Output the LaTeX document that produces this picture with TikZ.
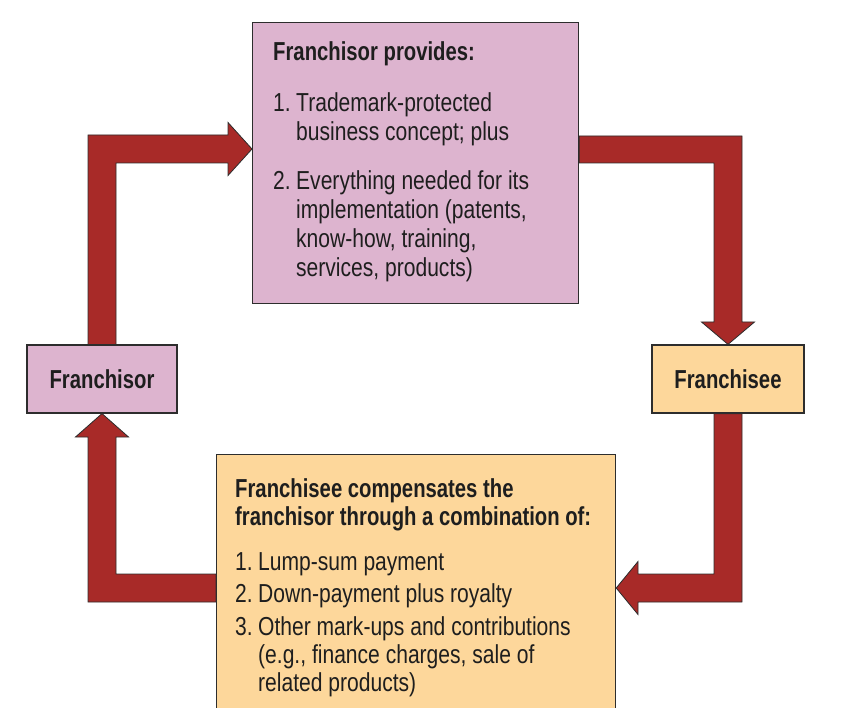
\documentclass[tikz,border=0pt]{standalone}
\usepackage{fontspec}
\setmainfont{Liberation Sans}[FakeStretch=0.81]
\newfontfamily\boldcond{Liberation Sans}[FakeStretch=0.78]
\usetikzlibrary{backgrounds,calc}
\definecolor{arrowred}{RGB}{168,42,40}
\definecolor{pinkfill}{RGB}{221,180,207}
\definecolor{orangefill}{RGB}{253,215,155}
\definecolor{txtcol}{RGB}{30,30,30}
\definecolor{edgecol}{RGB}{45,45,45}
\begin{document}
\begin{tikzpicture}[x=1pt,y=-1pt,
  box/.style={draw=edgecol, line width=1.2pt, inner sep=0pt},
  bigarrow/.style={fill=arrowred, draw=edgecol, line width=0.8pt, line join=miter},
  sidelabel/.style={font=\fontsize{26}{29}\selectfont\boldcond\bfseries, text=txtcol},
  listtext/.style={anchor=base west, inner sep=0pt, text=txtcol}
]
\useasboundingbox (0,0) rectangle (848,708);
\clip (0,0) rectangle (848,708);

% boxes
\node[box, fill=pinkfill, minimum width=326pt, minimum height=281pt, anchor=north west] (prov) at (252,22) {};
\node[box, fill=orangefill, minimum width=399pt, minimum height=270pt, anchor=north west] (comp) at (216,454) {};
\node[box, fill=pinkfill, minimum width=150pt, minimum height=68pt, sidelabel] (fr) at (102,379) {Franchisor};
\node[box, fill=orangefill, minimum width=152pt, minimum height=68pt, sidelabel] (fe) at (728,379) {Franchisee};

% texts
\node[listtext, font=\fontsize{26}{29}\selectfont] (provtxt) at (273,61) {%
\begin{tabular}[t]{@{}l@{}l@{}}
\multicolumn{2}{@{}l@{}}{\boldcond\bfseries Franchisor provides:}\\[22pt]
\makebox[23pt][l]{1.} & Trademark-protected\\
 & business concept; plus\\[20pt]
\makebox[23pt][l]{2.} & Everything needed for its\\
 & implementation (patents,\\
 & know-how, training,\\
 & services, products)
\end{tabular}};

\node[listtext, font=\fontsize{26}{28}\selectfont] (comptxt) at (235,497) {%
\begin{tabular}[t]{@{}l@{}l@{}}
\multicolumn{2}{@{}l@{}}{\boldcond\bfseries Franchisee compensates the}\\
\multicolumn{2}{@{}l@{}}{\boldcond\bfseries franchisor through a combination of:}\\[17pt]
\makebox[23pt][l]{1.} & Lump-sum payment\\[4pt]
\makebox[23pt][l]{2.} & Down-payment plus royalty\\[5pt]
\makebox[23pt][l]{3.} & Other mark-ups and contributions\\
 & (e.g., finance charges, sale of\\
 & related products)
\end{tabular}};

% arrows
\begin{scope}[on background layer]
\draw[bigarrow] ($(fr.north)+(-14,0)$) -- (88,135) -- (228,135) -- (228,122.5)
  -- (prov.west |- 0,149) -- (228,175.5) -- (228,163) -- (116,163) -- ($(fr.north)+(14,0)$) -- cycle;
\draw[bigarrow] (prov.east |- 0,136) -- (742,136) -- (742,322) -- (754.5,322)
  -- (fe.north) -- (701.5,322) -- (714,322) -- (714,163) -- (prov.east |- 0,163) -- cycle;
\draw[bigarrow] ($(fe.south)+(-14,0)$) -- (714,574) -- (638,574) -- (638,561.5)
  -- (comp.east |- 0,588) -- (638,614.5) -- (638,602) -- (742,602) -- ($(fe.south)+(14,0)$) -- cycle;
\draw[bigarrow] (comp.west |- 0,574) -- (116,574) -- (116,437) -- (128.5,437)
  -- (fr.south) -- (75.5,437) -- (88,437) -- (88,602) -- (comp.west |- 0,602) -- cycle;
\end{scope}
\end{tikzpicture}
\end{document}
